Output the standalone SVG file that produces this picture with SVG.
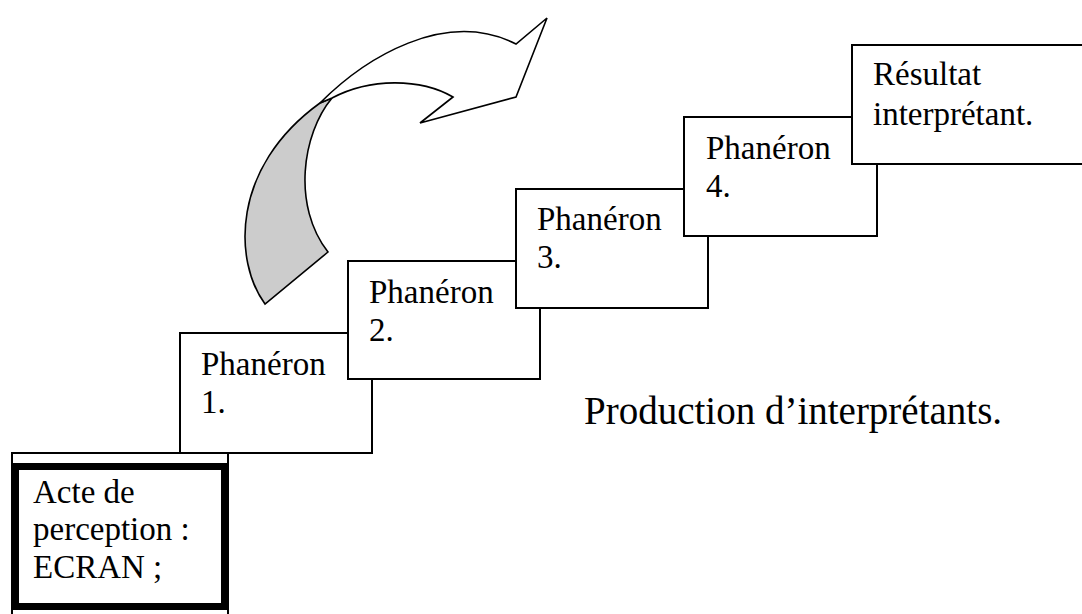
<svg xmlns="http://www.w3.org/2000/svg" width="1082" height="614" viewBox="0 0 1082 614">
  <style>
    .box { fill: #ffffff; stroke: #000000; stroke-width: 2; }
    .thick { fill: #ffffff; stroke: #000000; stroke-width: 7; }
    .lbl { font-family: "Liberation Serif", "Times New Roman", serif; font-size: 33px; fill: #000000; }
    .big { font-family: "Liberation Serif", "Times New Roman", serif; font-size: 39px; fill: #000000; }
    .arrow { stroke: #000000; stroke-width: 1.6; stroke-linejoin: miter; }
  </style>
  <rect width="1082" height="614" fill="#ffffff"/>

  <g id="arrow">
    <path class="arrow" fill="#cccccc" d="M 328,252 L 265,304 C 234,262 230,168 320,103 L 332,98 C 302,134 292,206 328,252 Z"/>
    <path class="arrow" fill="#ffffff" d="M 320,103 C 365,58 445,8 516,44 L 547,18 L 516,97 L 420,123 L 453,97 C 420,78 370,78 332,98 Z"/>
  </g>

  <g id="node-acte">
    <rect class="box" x="12" y="453" width="216" height="200"/>
    <rect class="thick" x="15.5" y="466.5" width="209" height="140"/>
    <text class="lbl" x="33" y="503">Acte de</text>
    <text class="lbl" x="33" y="540">perception :</text>
    <text class="lbl" x="33" y="578">ECRAN ;</text>
  </g>

  <g id="node-ph1">
    <rect class="box" x="180" y="333" width="192" height="120"/>
    <text class="lbl" x="201" y="375">Phanéron</text>
    <text class="lbl" x="201" y="413">1.</text>
  </g>

  <g id="node-ph2">
    <rect class="box" x="348" y="261" width="192" height="118"/>
    <text class="lbl" x="369" y="303">Phanéron</text>
    <text class="lbl" x="369" y="341">2.</text>
  </g>

  <g id="node-ph3">
    <rect class="box" x="516" y="189" width="192" height="119"/>
    <text class="lbl" x="537" y="230">Phanéron</text>
    <text class="lbl" x="537" y="268">3.</text>
  </g>

  <g id="node-ph4">
    <rect class="box" x="684" y="117" width="193" height="119"/>
    <text class="lbl" x="706" y="159">Phanéron</text>
    <text class="lbl" x="706" y="197">4.</text>
  </g>

  <g id="node-resultat">
    <rect class="box" x="852" y="45" width="240" height="119"/>
    <text class="lbl" x="873" y="85">Résultat</text>
    <text class="lbl" x="873" y="125">interprétant.</text>
  </g>

  <g id="connectors"></g>

  <text class="big" x="584" y="424">Production d’interprétants.</text>
</svg>
